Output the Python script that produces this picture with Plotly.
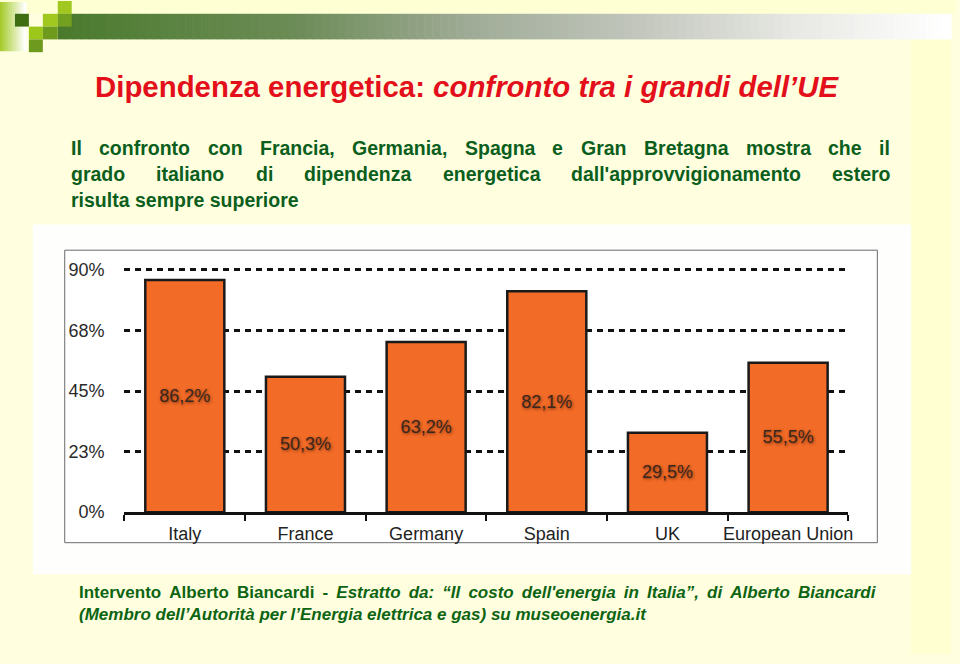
import plotly.graph_objects as go

# ---------------- data ----------------
categories = ["Italy", "France", "Germany", "Spain", "UK", "European Union"]
values = [86.2, 50.3, 63.2, 82.1, 29.5, 55.5]
value_labels = ["86,2%", "50,3%", "63,2%", "82,1%", "29,5%", "55,5%"]
y_tick_vals = [0, 22.5, 45, 67.5, 90]
y_tick_text = ["0%", "23%", "45%", "68%", "90%"]

title_plain = "Dipendenza energetica: "
title_italic = "confronto tra i grandi dell\u2019UE"
sub_line1 = "Il confronto con Francia, Germania, Spagna e Gran Bretagna mostra che il"
sub_line2 = "grado italiano di dipendenza energetica dall'approvvigionamento estero"
sub_line3 = "risulta sempre superiore"
foot_plain = "Intervento Alberto Biancardi - "
foot_italic1 = "Estratto da: \u201cIl costo dell'energia in Italia\u201d, di Alberto Biancardi"
foot_italic2 = "(Membro dell\u2019Autorit\u00e0 per l\u2019Energia elettrica e gas) su museoenergia.it"

W, H = 960, 664


def px(x):
    return x / W


def py(y):
    return 1 - y / H


def hexmix(c1, c2, t):
    a = [int(c1[i:i + 2], 16) for i in (1, 3, 5)]
    b = [int(c2[i:i + 2], 16) for i in (1, 3, 5)]
    return "#" + "".join(f"{round(a[k] + (b[k] - a[k]) * t):02x}" for k in range(3))


def grad_color(stops, x):
    for (x0, c0), (x1, c1) in zip(stops, stops[1:]):
        if x0 <= x <= x1:
            return hexmix(c0, c1, (x - x0) / (x1 - x0))
    return stops[-1][1]


shapes = []


def rect(x0, y0, x1, y1, fill, line=None, lw=0, layer="below"):
    shapes.append(dict(type="rect", xref="paper", yref="paper",
                       x0=px(x0), x1=px(x1), y0=py(y1), y1=py(y0),
                       fillcolor=fill, layer=layer,
                       line=dict(color=line or fill, width=lw)))


# slide background bands
rect(0, 0, 960, 14, "#FFFFD4")
rect(915, 14, 955, 664, "#FFFFD2")

# header gradient bar
stops = [(58, "#4a7a2c"), (300, "#6d8c58"), (470, "#9fab96"),
         (640, "#c2c6bd"), (800, "#e8e9e4"), (950, "#ffffff")]
step = 8
x = 58
while x < 955:
    x1 = min(x + step, 955)
    rect(x, 14, x1 + 0.6, 40, grad_color(stops, (x + x1) / 2))
    x = x1

# left gradient strip
for i in range(13):
    rect(i * 2, 2, i * 2 + 2.6, 52, hexmix("#a8cc30", "#ffffff", i / 12))

# decorative squares
rect(15, 14, 29, 27, "#3f6e12")
rect(43, 14, 58, 27, "#a0c81e")
rect(58, 1, 72, 14, "#a0c81e")
rect(58, 14, 72, 27, "#74a020")
rect(29, 27, 43, 40, "#9cc61a")
rect(43, 27, 58, 40, "#6e9a1e")
rect(29, 40, 43, 53, "#6e9a1e")

# chart image background and inner frame
rect(33, 228, 915, 583, "#FEFEFC")
rect(65, 254, 881, 551, "#FFFFFF", line="#6a6a6a", lw=1)

# ---------------- chart ----------------
fig = go.Figure()
fig.add_trace(go.Bar(
    x=categories, y=values, text=value_labels,
    textposition="inside", insidetextanchor="middle", textangle=0,
    constraintext="none",
    textfont=dict(family="Liberation Sans, Arial, sans-serif", size=18,
                  color="#3a271d", shadow="1px 1px 3px rgba(90,30,0,0.75)"),
    marker=dict(color="#F26B27", line=dict(color="#1a1a1a", width=2.5)),
    width=0.655, hoverinfo="skip",
))

# ---------------- texts ----------------
HB = {" ": 278, ",": 278, "'": 238, "I": 278, "F": 611, "G": 778, "S": 667, "B": 722,
      "a": 556, "c": 556, "d": 611, "e": 556, "f": 333, "g": 611, "h": 611,
      "i": 278, "l": 278, "m": 889, "n": 611, "o": 611, "p": 611, "r": 389, "s": 556,
      "t": 333, "u": 611, "v": 556, "z": 500}

FONT = "Liberation Sans, Arial, sans-serif"
sub_size = 19.5
sub_color = "#0b5e1c"
annotations = []


def justified(line, y, xl, xr, size, color):
    words = line.split(" ")
    widths = [sum(HB.get(ch, 556) for ch in w) * size / 1000 for w in words]
    gap = (xr - xl - sum(widths)) / (len(words) - 1)
    xpos = xl
    for w, wd in zip(words, widths):
        annotations.append(dict(xref="paper", yref="paper", x=px(xpos), y=py(y),
                                xanchor="left", yanchor="middle", showarrow=False,
                                text="<b>" + w + "</b>", borderpad=0,
                                font=dict(family=FONT, size=size, color=color)))
        xpos += wd + gap


justified(sub_line1, 150, 70, 893, sub_size, sub_color)
justified(sub_line2, 177, 70, 893, sub_size, sub_color)
annotations.append(dict(xref="paper", yref="paper", x=px(70), y=py(203),
                        xanchor="left", yanchor="middle", showarrow=False,
                        text="<b>" + sub_line3 + "</b>", borderpad=0,
                        font=dict(family=FONT, size=sub_size, color=sub_color)))

annotations.append(dict(xref="paper", yref="paper", x=px(94), y=py(88),
                        xanchor="left", yanchor="middle", showarrow=False,
                        text="<b>" + title_plain + "<i>" + title_italic + "</i></b>",
                        borderpad=0,
                        font=dict(family=FONT, size=29.4, color="#e3101b")))

# footer (two lines in one text block; slightly widened spacing on line 1)
foot_size = 17
foot_color = "#0d6412"
TS = " \u2009"
foot_text = ("<b>" + foot_plain.replace(" ", TS) + "<i>" + foot_italic1.replace(" ", TS)
             + "<br>" + foot_italic2 + "</i></b>")
annotations.append(dict(xref="paper", yref="paper", x=px(78), y=py(612.5),
                        xanchor="left", yanchor="middle", align="left",
                        showarrow=False, text=foot_text, borderpad=0,
                        font=dict(family=FONT, size=foot_size, color=foot_color)))

y_top_px = 520 - 95 * (246 / 90)
fig.update_layout(
    width=W, height=H, autosize=False, margin=dict(l=0, r=0, t=0, b=0),
    paper_bgcolor="#FFFFE0", plot_bgcolor="rgba(0,0,0,0)",
    showlegend=False, shapes=shapes, annotations=annotations,
    xaxis=dict(domain=[px(125), px(852)], type="category", range=[-0.5, 5.5],
               showline=True, linecolor="#111111", linewidth=3,
               ticks="outside", tickson="boundaries", ticklen=6, tickwidth=2,
               tickcolor="#111111", showgrid=False, zeroline=False,
               tickangle=0, ticklabelstandoff=3,
               tickfont=dict(family=FONT, size=18, color="#222222")),
    yaxis=dict(domain=[py(520), py(y_top_px)], range=[0, 95],
               tickvals=y_tick_vals, ticktext=y_tick_text,
               showgrid=True, gridcolor="#111111", gridwidth=2.6,
               griddash="6px,5px", zeroline=False, showline=False,
               ticks="", ticklabelstandoff=19,
               tickfont=dict(family=FONT, size=18, color="#2a2a2a")),
)

fig.write_html("out.html", config={"responsive": False, "displayModeBar": False},
               post_script="document.body.style.margin='0';")
